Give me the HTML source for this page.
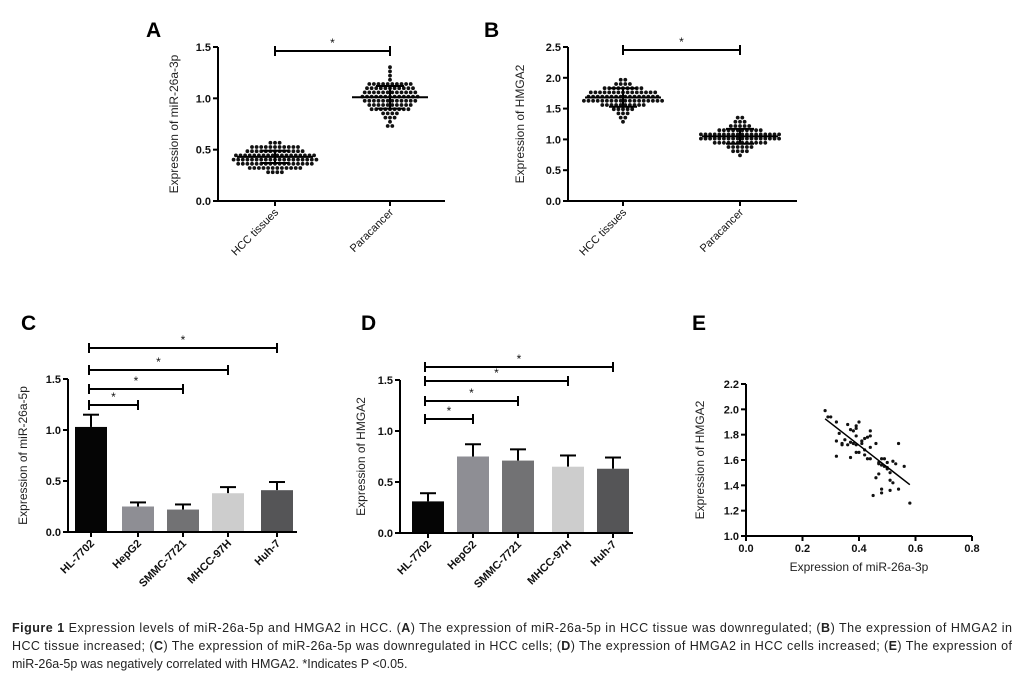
<!DOCTYPE html>
<html><head><meta charset="utf-8">
<style>
html,body{margin:0;padding:0;background:#fff;}
svg{display:block;font-family:"Liberation Sans",Arial,sans-serif;}
</style></head>
<body>
<svg id="fig" width="1030" height="680" viewBox="0 0 1030 680" xmlns="http://www.w3.org/2000/svg"></svg>
<script>
// ---- Panel A data ----
const catsA = ["HCC tissues","Paracancer"];
const hccA = [0.28,0.29,0.30,0.30,0.31,0.31,0.31,0.32,0.32,0.32,0.33,0.33,0.33,0.34,0.34,0.34,0.35,0.35,0.35,0.35,0.36,0.36,0.36,0.36,0.37,0.37,0.37,0.37,0.38,0.38,0.38,0.38,0.38,0.39,0.39,0.39,0.39,0.40,0.40,0.40,0.40,0.40,0.41,0.41,0.41,0.41,0.42,0.42,0.42,0.42,0.42,0.42,0.43,0.43,0.43,0.43,0.43,0.44,0.44,0.44,0.44,0.44,0.45,0.45,0.45,0.45,0.46,0.46,0.46,0.46,0.47,0.47,0.47,0.47,0.48,0.48,0.48,0.49,0.49,0.49,0.50,0.50,0.50,0.51,0.51,0.51,0.52,0.52,0.52,0.52,0.52,0.52,0.53,0.53,0.55,0.56,0.58];
const paraA = [0.72,0.74,0.78,0.80,0.82,0.83,0.84,0.85,0.86,0.86,0.88,0.88,0.89,0.89,0.90,0.90,0.90,0.91,0.91,0.92,0.92,0.93,0.93,0.93,0.94,0.94,0.95,0.95,0.95,0.96,0.96,0.96,0.97,0.97,0.97,0.98,0.98,0.98,0.99,0.99,0.99,1.00,1.00,1.00,1.00,1.01,1.01,1.01,1.02,1.02,1.02,1.03,1.03,1.03,1.04,1.04,1.04,1.05,1.05,1.05,1.06,1.06,1.06,1.07,1.07,1.07,1.08,1.08,1.08,1.09,1.09,1.09,1.10,1.10,1.10,1.11,1.11,1.12,1.12,1.12,1.13,1.13,1.13,1.14,1.14,1.14,1.16,1.18,1.22,1.26,1.30];
const statsA = [[0.43,0.06],[1.01,0.11]];
// ---- Panel B data ----
const catsB = ["HCC tissues","Paracancer"];
const hccB = [1.28,1.33,1.38,1.40,1.42,1.45,1.46,1.48,1.50,1.50,1.52,1.53,1.53,1.55,1.55,1.56,1.57,1.57,1.58,1.58,1.59,1.60,1.60,1.60,1.61,1.61,1.62,1.62,1.62,1.63,1.63,1.64,1.64,1.64,1.65,1.65,1.66,1.66,1.66,1.67,1.67,1.67,1.68,1.68,1.68,1.69,1.69,1.70,1.70,1.70,1.71,1.71,1.72,1.72,1.72,1.73,1.73,1.74,1.74,1.74,1.75,1.75,1.76,1.76,1.77,1.77,1.78,1.78,1.79,1.79,1.80,1.80,1.81,1.81,1.82,1.83,1.84,1.85,1.86,1.87,1.88,1.90,1.92,1.95,1.98];
const paraB = [0.76,0.78,0.80,0.82,0.84,0.86,0.87,0.88,0.89,0.90,0.91,0.92,0.92,0.93,0.93,0.94,0.94,0.95,0.95,0.96,0.96,0.97,0.97,0.98,0.98,0.98,0.99,0.99,1.00,1.00,1.00,1.01,1.01,1.02,1.02,1.02,1.03,1.03,1.04,1.04,1.04,1.05,1.05,1.05,1.06,1.06,1.06,1.07,1.07,1.08,1.08,1.08,1.09,1.09,1.10,1.10,1.10,1.11,1.11,1.12,1.12,1.13,1.13,1.14,1.14,1.15,1.16,1.17,1.18,1.19,1.20,1.21,1.22,1.24,1.26,1.28,1.30,1.34,1.37];
const statsB = [[1.68,0.15],[1.05,0.12]];
// ---- Panel C / D data ----
const cellLines = ["HL-7702","HepG2","SMMC-7721","MHCC-97H","Huh-7"];
const meansC = [1.03,0.25,0.22,0.38,0.41];
const sdC = [0.12,0.04,0.05,0.06,0.08];
const meansD = [0.31,0.75,0.71,0.65,0.63];
const sdD = [0.08,0.12,0.11,0.11,0.11];
const barColors = ["#050505","#8e8e94","#727274","#cdcdcd","#555557"];
const yTicksBar = [0,0.5,1.0,1.5];
// ---- Panel E data ----
const eX = [0.28,0.29,0.30,0.32,0.32,0.32,0.33,0.34,0.34,0.35,0.36,0.37,0.37,0.37,0.38,0.38,0.39,0.39,0.39,0.39,0.39,0.40,0.40,0.41,0.41,0.42,0.42,0.42,0.43,0.43,0.44,0.44,0.44,0.44,0.46,0.46,0.45,0.47,0.47,0.48,0.48,0.48,0.48,0.49,0.49,0.50,0.50,0.51,0.51,0.51,0.52,0.52,0.53,0.54,0.54,0.56,0.58,0.50,0.47,0.36];
const eY = [1.99,1.94,1.94,1.90,1.75,1.63,1.81,1.73,1.72,1.76,1.88,1.84,1.74,1.62,1.83,1.73,1.87,1.85,1.79,1.72,1.66,1.90,1.66,1.73,1.75,1.77,1.64,1.68,1.78,1.61,1.83,1.79,1.70,1.61,1.73,1.46,1.32,1.49,1.57,1.61,1.56,1.37,1.34,1.61,1.55,1.58,1.54,1.50,1.44,1.36,1.42,1.59,1.57,1.73,1.37,1.55,1.26,1.53,1.58,1.72];
const fitLine = [[0.28,1.925],[0.58,1.405]];
const eXTicks = [0.0,0.2,0.4,0.6,0.8];
const eYTicks = [1.0,1.2,1.4,1.6,1.8,2.0,2.2];

const NS="http://www.w3.org/2000/svg";
const svg=document.getElementById('fig');
function mk(tag,attrs,parent){const e=document.createElementNS(NS,tag);for(const k in attrs)e.setAttribute(k,attrs[k]);(parent||svg).appendChild(e);return e;}
function line(x1,y1,x2,y2,w,p){return mk('line',{x1:x1,y1:y1,x2:x2,y2:y2,stroke:'#000','stroke-width':w||2},p);}
function txt(x,y,s,attrs,p){const t=mk('text',Object.assign({x:x,y:y,fill:'#111'},attrs||{}),p);t.textContent=s;return t;}
function lin(d0,d1,r0,r1){return v=>r0+(v-d0)/(d1-d0)*(r1-r0);}

function yAxis(g,x,yScale,ticks,fmt,top,bottom,label,labelX){
  const ax=line(x,top,x,bottom,2,g);
  
  ticks.forEach(v=>{const y=yScale(v);line(x-5,y,x,y,2,g);
    const t=txt(x-7,y+4,fmt(v),{'font-size':11,'font-weight':'bold','text-anchor':'end'},g);
    });
  const cy=(top+bottom)/2;
  const l=txt(labelX,cy,label,{'font-size':12,'text-anchor':'middle',transform:`rotate(-90 ${labelX} ${cy})`,fill:'#222'},g);
  
}
function sig(g,x1,x2,y){line(x1,y,x2,y,2,g);line(x1,y-5,x1,y+5,2,g);line(x2,y-5,x2,y+5,2,g);
  const s=txt((x1+x2)/2,y-4,'*',{'font-size':12,'text-anchor':'middle'},g);
  }
function panelLetter(x,y,s){const t=txt(x,y,s,{'font-size':21,'font-weight':'bold',fill:'#000'});
  }

function swarmPanel(name,axisX,yTop,y0,xEnd,yMax,ticks,centers,cats,groups,stats,label,labelX,sigY){
  const g=mk('g',{});
  
  const ys=lin(0,yMax,y0,yTop);
  yAxis(g,axisX,ys,ticks,v=>v.toFixed(1),yTop,y0,label,labelX);
  const xa=line(axisX,y0,xEnd,y0,2,g);
  
  groups.forEach((vals,i)=>{
    const cx=centers[i];
    line(cx,y0,cx,y0+5,2,g);
    const lx=cx+4,ly=y0+12;
    const t=txt(lx,ly,cats[i],{'font-size':11,'text-anchor':'end',transform:`rotate(-45 ${lx} ${ly})`},g);
    
    const rows={};
    vals.forEach(v=>{const y=ys(v);const k=Math.round(y/4.2);(rows[k]=rows[k]||[]).push(k*4.2);});
    Object.values(rows).forEach(r=>{r.forEach((y,j)=>{const off=(j-(r.length-1)/2)*4.6;
      const d=mk('circle',{cx:cx+off,cy:y,r:1.9,fill:'#111'},g);
      });});
    const [m,sd]=stats[i];
    const ml=line(cx-38,ys(m),cx+38,ys(m),2,g);
    
    line(cx,ys(m-sd),cx,ys(m+sd),2,g);
    line(cx-14,ys(m-sd),cx+14,ys(m-sd),2,g);line(cx-14,ys(m+sd),cx+14,ys(m+sd),2,g);
  });
  sig(g,centers[0],centers[1],sigY);
}
swarmPanel('panel-a-chart',218,47,201,445,1.5,[0,0.5,1.0,1.5],[275,390],catsA,[hccA,paraA],statsA,'Expression of miR-26a-3p',178,51);
swarmPanel('panel-b-chart',568,47,201,797,2.5,[0,0.5,1.0,1.5,2.0,2.5],[623,740],catsB,[hccB,paraB],statsB,'Expression of HMGA2',524,50);

function barPanel(name,axisX,yTop,y0,xEnd,centers,means,sds,label,labelX,sigYs,sigLeft){
  const g=mk('g',{});
  
  const ys=lin(0,1.5,y0,yTop);
  means.forEach((m,i)=>{const cx=centers[i];const top=ys(m+sds[i]);
    line(cx,ys(m),cx,top,2,g);line(cx-8,top,cx+8,top,2,g);
    const b=mk('rect',{x:cx-16,y:ys(m),width:32,height:y0-ys(m),fill:barColors[i]},g);
    
    line(cx,y0,cx,y0+5,2,g);
    const lx=cx+4,ly=y0+12;
    const t=txt(lx,ly,cellLines[i],{'font-size':11,'font-weight':'bold','text-anchor':'end',transform:`rotate(-45 ${lx} ${ly})`},g);
    
  });
  yAxis(g,axisX,ys,yTicksBar,v=>v.toFixed(1),yTop,y0,label,labelX);
  const xa=line(axisX,y0,xEnd,y0,2,g);
  
  sigYs.forEach((y,k)=>sig(g,sigLeft,centers[4-k],y));
}
barPanel('panel-c-chart',68,379,532,297,[91,138,183,228,277],meansC,sdC,'Expression of miR-26a-5p',27,[348,370,389,405],89);
barPanel('panel-d-chart',400,380,533,633,[428,473,518,568,613],meansD,sdD,'Expression of HMGA2',365,[367,381,401,419],425);

(function(){
  const g=mk('g',{});
  
  const xs=lin(0,0.8,746,972), ys=lin(1.0,2.2,536,384);
  yAxis(g,746,ys,eYTicks,v=>v.toFixed(1),384,536,'Expression of HMGA2',704);
  const xa=line(746,536,972,536,2,g);
  
  eXTicks.forEach(v=>{const x=xs(v);line(x,536,x,541,2,g);
    const t=txt(x,552,v.toFixed(1),{'font-size':11,'font-weight':'bold','text-anchor':'middle'},g);
    });
  const xt=txt(859,571,'Expression of miR-26a-3p',{'font-size':12,'text-anchor':'middle',fill:'#222'},g);
  
  eX.forEach((v,i)=>{const d=mk('circle',{cx:xs(v),cy:ys(eY[i]),r:1.6,fill:'#111'},g);
    });
  const fl=line(xs(fitLine[0][0]),ys(fitLine[0][1]),xs(fitLine[1][0]),ys(fitLine[1][1]),1.5,g);
  
})();

panelLetter(146,37,'A');panelLetter(484,37,'B');panelLetter(21,330,'C');panelLetter(361,330,'D');panelLetter(692,330,'E');

const cap=mk('text',{x:12,y:632,'font-size':12.5,fill:'#222'});

cap.innerHTML='<tspan x="12" y="632" textLength="1000" lengthAdjust="spacing"><tspan font-weight="bold">Figure 1</tspan> Expression levels of miR-26a-5p and HMGA2 in HCC. (<tspan font-weight="bold">A</tspan>) The expression of miR-26a-5p in HCC tissue was downregulated; (<tspan font-weight="bold">B</tspan>) The expression of HMGA2 in</tspan>'+
'<tspan x="12" y="650" textLength="1000" lengthAdjust="spacing">HCC tissue increased; (<tspan font-weight="bold">C</tspan>) The expression of miR-26a-5p was downregulated in HCC cells; (<tspan font-weight="bold">D</tspan>) The expression of HMGA2 in HCC cells increased; (<tspan font-weight="bold">E</tspan>) The expression of</tspan>'+
'<tspan x="12" y="668">miR-26a-5p was negatively correlated with HMGA2. *Indicates P &lt;0.05.</tspan>';
</script>
</body></html>
